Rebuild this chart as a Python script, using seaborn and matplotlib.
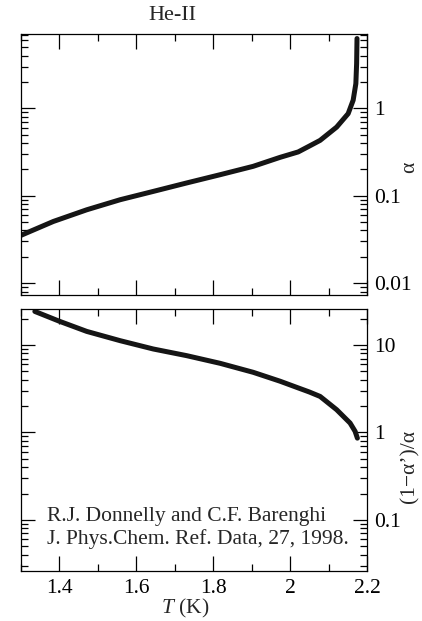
import matplotlib
matplotlib.use("Agg")
import matplotlib.pyplot as plt
import matplotlib.ticker as mticker
import seaborn as sns
import pandas as pd

# ---- data ----
T_alpha = [1.300, 1.384, 1.471, 1.558, 1.644, 1.731, 1.818, 1.904, 1.974,
           2.021, 2.050, 2.078, 2.121, 2.151, 2.164, 2.171, 2.173, 2.174]
alpha = [0.0352, 0.0507, 0.069, 0.090, 0.112, 0.140, 0.174, 0.217, 0.275,
         0.317, 0.370, 0.43, 0.61, 0.87, 1.24, 1.92, 3.26, 6.3]

T_ratio = [1.336, 1.401, 1.471, 1.558, 1.644, 1.731, 1.818, 1.904, 1.974,
           2.021, 2.050, 2.078, 2.121, 2.156, 2.169, 2.175]
ratio = [24.2, 18.6, 14.3, 11.2, 9.0, 7.55, 6.17, 4.87, 3.85,
         3.23, 2.90, 2.58, 1.82, 1.28, 1.03, 0.86]

x_ticks = [1.4, 1.6, 1.8, 2.0, 2.2]
x_tick_labels = ["1.4", "1.6", "1.8", "2", "2.2"]
top_y_ticks = [0.01, 0.1, 1]
top_y_labels = ["0.01", "0.1", "1"]
bot_y_ticks = [0.1, 1, 10]
bot_y_labels = ["0.1", "1", "10"]

title_text = "He-II"
top_ylabel = "α"
bot_ylabel = "(1−α’)/α"
xlabel = "$T$ (K)"
note_lines = ["R.J. Donnelly and C.F. Barenghi", "J. Phys.Chem. Ref. Data, 27, 1998."]

df_top = pd.DataFrame({"T": T_alpha, "v": alpha})
df_bot = pd.DataFrame({"T": T_ratio, "v": ratio})

# ---- style ----
sns.set_style("ticks")
plt.rcParams["font.family"] = ["Liberation Serif", "DejaVu Serif"]
plt.rcParams["mathtext.fontset"] = "custom"
plt.rcParams["mathtext.it"] = "Liberation Serif:italic"
plt.rcParams["mathtext.rm"] = "Liberation Serif"

FS = 15.5
LINE_COLOR = "#151515"

fig = plt.figure(figsize=(4.22, 6.21), dpi=100)
W, H = 422.0, 621.0
ax_top = fig.add_axes([21 / W, (H - 295) / H, 346 / W, 261 / H])
ax_bot = fig.add_axes([21 / W, (H - 571) / H, 346 / W, 262 / H])

sns.lineplot(data=df_top, x="T", y="v", ax=ax_top, color=LINE_COLOR,
             linewidth=3.6, sort=False, estimator=None)
sns.lineplot(data=df_bot, x="T", y="v", ax=ax_bot, color=LINE_COLOR,
             linewidth=3.6, sort=False, estimator=None)

for ax in (ax_top, ax_bot):
    ax.set_yscale("log")
    ax.set_xlim(1.3, 2.2)
    ax.xaxis.set_major_locator(mticker.FixedLocator(x_ticks))
    ax.xaxis.set_minor_locator(mticker.MultipleLocator(0.1))
    ax.yaxis.set_minor_locator(mticker.LogLocator(base=10, subs=range(2, 10), numticks=20))
    ax.yaxis.set_minor_formatter(mticker.NullFormatter())
    ax.tick_params(which="both", direction="in", top=True, bottom=True,
                   left=True, right=True, labelleft=False, labelright=True,
                   width=0.9, colors="black", labelsize=FS)
    ax.tick_params(axis="y", which="major", length=10, pad=5)
    ax.tick_params(axis="y", which="minor", length=5)
    ax.tick_params(axis="x", which="major", length=10.5, pad=6)
    ax.tick_params(axis="x", which="minor", length=5)
    for s in ax.spines.values():
        s.set_linewidth(0.9)
        s.set_color("black")
    ax.set_xlabel("")
    ax.set_ylabel("")

ax_top.set_ylim(0.0073, 7.1)
ax_top.set_yticks(top_y_ticks)
ax_top.set_yticklabels(top_y_labels)
ax_top.tick_params(axis="x", labelbottom=False)

ax_bot.set_ylim(0.026, 25.8)
ax_bot.set_yticks(bot_y_ticks)
ax_bot.set_yticklabels(bot_y_labels)
ax_bot.set_xticks(x_ticks)
ax_bot.set_xticklabels(x_tick_labels)

# title
ax_top.text(0.437, 1.0 + 19 / 261, title_text, transform=ax_top.transAxes,
            ha="center", va="center", fontsize=16)

# y labels on the right
ax_top.yaxis.set_label_position("right")
ax_top.set_ylabel(top_ylabel, fontsize=FS, rotation=90)
ax_top.yaxis.set_label_coords((410 - 21) / 346, 0.49)
ax_top.yaxis.label.set_va("center")
ax_top.yaxis.label.set_ha("center")

ax_bot.yaxis.set_label_position("right")
ax_bot.set_ylabel(bot_ylabel, fontsize=FS, rotation=90)
ax_bot.yaxis.set_label_coords((410 - 21) / 346, 0.397)
ax_bot.yaxis.label.set_va("center")
ax_bot.yaxis.label.set_ha("center")

# x label
ax_bot.set_xlabel(xlabel, fontsize=FS)
ax_bot.xaxis.set_label_coords(0.475, -37 / 262)
ax_bot.xaxis.label.set_va("center")

# citation note
ax_bot.text(0.075, (571 - 517) / 262, note_lines[0], transform=ax_bot.transAxes,
            ha="left", va="center", fontsize=FS)
ax_bot.text(0.075, (571 - 539) / 262, note_lines[1], transform=ax_bot.transAxes,
            ha="left", va="center", fontsize=FS)

fig.savefig("out.png", dpi=100)
